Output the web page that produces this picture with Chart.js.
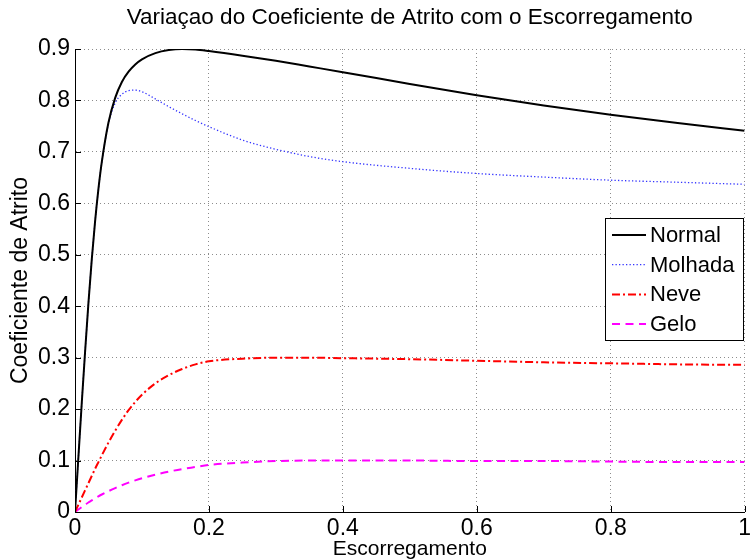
<!DOCTYPE html>
<html>
<head>
<meta charset="utf-8">
<script src="https://cdn.jsdelivr.net/npm/chart.js@4.4.1/dist/chart.umd.min.js"></script>
<style>
  html, body { margin: 0; padding: 0; background: #fff; }
  #wrap { width: 754px; height: 560px; }
</style>
</head>
<body>
<div id="wrap"><canvas id="chart" width="754" height="560"></canvas></div>
<script>
// ==========================
// DATA
// ==========================
const slip = [0, 0.005, 0.01, 0.015, 0.02, 0.025, 0.03, 0.035, 0.04, 0.05,
  0.06, 0.07, 0.08, 0.09, 0.1, 0.12, 0.14, 0.16, 0.18, 0.2,
  0.25, 0.3, 0.35, 0.4, 0.5, 0.6, 0.7, 0.8, 0.9, 1.0];

const normal = [0, 0.105, 0.21, 0.31, 0.405, 0.49, 0.565, 0.628, 0.68, 0.757,
  0.805, 0.836, 0.856, 0.87, 0.88, 0.892, 0.898, 0.9, 0.899, 0.896,
  0.887, 0.877, 0.866, 0.855, 0.832, 0.81, 0.79, 0.772, 0.756, 0.741];

const molhada = [0, 0.105, 0.21, 0.31, 0.405, 0.49, 0.565, 0.628, 0.68, 0.755,
  0.795, 0.812, 0.819, 0.82, 0.817, 0.803, 0.788, 0.774, 0.761, 0.749,
  0.723, 0.705, 0.691, 0.681, 0.668, 0.658, 0.651, 0.645, 0.641, 0.637];

const neve = [0, 0.014, 0.028, 0.042, 0.056, 0.07, 0.084, 0.097, 0.11, 0.135,
  0.158, 0.179, 0.198, 0.214, 0.228, 0.25, 0.266, 0.278, 0.287, 0.293,
  0.298, 0.3, 0.3, 0.299, 0.297, 0.294, 0.291, 0.289, 0.287, 0.286];

const gelo = [0, 0.0048, 0.0095, 0.014, 0.0185, 0.0225, 0.0265, 0.0305, 0.034, 0.0405,
  0.0465, 0.052, 0.057, 0.0615, 0.0655, 0.0725, 0.0785, 0.0835, 0.0875, 0.0915,
  0.096, 0.099, 0.1, 0.1, 0.1, 0.099, 0.099, 0.098, 0.097, 0.097];

const xTicks = [0, 0.2, 0.4, 0.6, 0.8, 1];
const yTicks = [0, 0.1, 0.2, 0.3, 0.4, 0.5, 0.6, 0.7, 0.8, 0.9];

const titulo = "Variaçao do Coeficiente de Atrito com o Escorregamento";

const FONT = "'Liberation Sans', Arial, Helvetica, sans-serif";

function pontos(vals) {
  return slip.map((s, i) => ({ x: s, y: vals[i] }));
}

// ==========================
// PLUGINS
// ==========================
// titulo centrado no eixo (como no matlab)
const axisTitle = {
  id: "axisTitle",
  afterDraw(chart) {
    const { ctx, chartArea } = chart;
    ctx.save();
    ctx.font = "22.5px " + FONT;
    ctx.fillStyle = "#000";
    ctx.textAlign = "center";
    ctx.textBaseline = "middle";
    ctx.fillText(titulo, (chartArea.left + chartArea.right) / 2, 18);
    ctx.restore();
  }
};

// ticks para dentro (estilo matlab)
const inwardTicks = {
  id: "inwardTicks",
  beforeDatasetsDraw(chart) {
    const { ctx, chartArea, scales } = chart;
    ctx.save();
    ctx.strokeStyle = "#000";
    ctx.lineWidth = 1;
    ctx.beginPath();
    scales.x.ticks.forEach(t => {
      const px = Math.round(scales.x.getPixelForValue(t.value)) + 0.5;
      ctx.moveTo(px, chartArea.bottom);
      ctx.lineTo(px, chartArea.bottom - 6);
    });
    scales.y.ticks.forEach(t => {
      const py = Math.round(scales.y.getPixelForValue(t.value)) + 0.5;
      ctx.moveTo(chartArea.left, py);
      ctx.lineTo(chartArea.left + 6, py);
    });
    ctx.stroke();
    ctx.restore();
  }
};

// legenda com caixa dentro do grafico
const boxLegend = {
  id: "boxLegend",
  afterDraw(chart) {
    const { ctx } = chart;
    const x = 605, y = 218, w = 138, h = 122;
    ctx.save();
    ctx.fillStyle = "#fff";
    ctx.fillRect(x, y, w, h);
    ctx.strokeStyle = "#000";
    ctx.lineWidth = 1;
    ctx.strokeRect(x + 0.5, y + 0.5, w, h);
    ctx.font = "22px " + FONT;
    ctx.textBaseline = "middle";
    chart.data.datasets.forEach((ds, i) => {
      const cy = y + 17 + i * 29.7;
      ctx.beginPath();
      ctx.setLineDash(ds.borderDash || []);
      ctx.strokeStyle = ds.borderColor;
      ctx.lineWidth = ds.borderWidth;
      ctx.moveTo(x + 7, cy);
      ctx.lineTo(x + 41, cy);
      ctx.stroke();
      ctx.setLineDash([]);
      ctx.fillStyle = "#000";
      ctx.fillText(ds.label, x + 45, cy + 1);
    });
    ctx.restore();
  }
};

// ==========================
// CHART
// ==========================
const gridStyle = { color: "#8c8c8c", lineWidth: 1, drawTicks: false };
const borderStyle = { display: true, color: "#000", width: 1, dash: [1, 3] };

new Chart(document.getElementById("chart"), {
  type: "line",
  data: {
    datasets: [
      { label: "Normal", data: pontos(normal), borderColor: "#000", borderWidth: 2 },
      { label: "Molhada", data: pontos(molhada), borderColor: "#3333ff", borderWidth: 1.3, borderDash: [1.3, 2.2] },
      { label: "Neve", data: pontos(neve), borderColor: "#ff0000", borderWidth: 2, borderDash: [8, 3, 2, 3] },
      { label: "Gelo", data: pontos(gelo), borderColor: "#ff00ff", borderWidth: 2, borderDash: [8, 5.5] }
    ]
  },
  options: {
    responsive: false,
    animation: false,
    devicePixelRatio: 1,
    elements: {
      point: { radius: 0 },
      line: { cubicInterpolationMode: "monotone", fill: false }
    },
    layout: { padding: { left: 0, right: 0, top: 49, bottom: 0 } },
    plugins: {
      legend: { display: false },
      tooltip: { enabled: false },
      title: { display: false }
    },
    scales: {
      x: {
        type: "linear",
        min: 0,
        max: 1,
        afterBuildTicks: s => { s.ticks = xTicks.map(v => ({ value: v })); },
        afterFit: s => { s.height = 48; },
        ticks: {
          color: "#000",
          padding: 3,
          maxRotation: 0,
          font: { family: FONT, size: 23 },
          callback: v => String(v)
        },
        grid: gridStyle,
        border: borderStyle,
        title: {
          display: true,
          text: "Escorregamento",
          color: "#000",
          font: { family: FONT, size: 21 },
          padding: { top: 0, bottom: -2 }
        }
      },
      y: {
        min: 0,
        max: 0.9,
        afterBuildTicks: s => { s.ticks = yTicks.map(v => ({ value: v })); },
        afterFit: s => { s.width = 75; },
        ticks: {
          color: "#000",
          padding: 5,
          font: { family: FONT, size: 23 },
          callback: v => String(v)
        },
        grid: gridStyle,
        border: borderStyle,
        title: {
          display: true,
          text: "Coeficiente de Atrito",
          color: "#000",
          font: { family: FONT, size: 23 },
          padding: { top: 7, bottom: 0 }
        }
      }
    }
  },
  plugins: [inwardTicks, boxLegend, axisTitle]
});
</script>
</body>
</html>
